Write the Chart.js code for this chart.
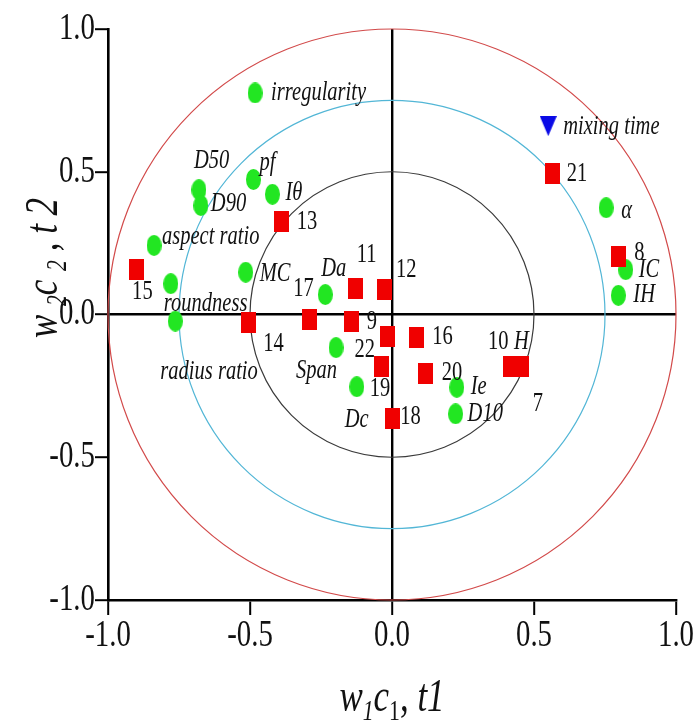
<!DOCTYPE html>
<html>
<head>
<meta charset="utf-8">
<title>PLS loading plot</title>
<script src="https://cdn.jsdelivr.net/npm/chart.js@4.4.0/dist/chart.umd.min.js"></script>
<style>
  html, body { margin: 0; padding: 0; background: #fff; }
  #wrap { width: 695px; height: 727px; position: relative; }
</style>
</head>
<body>
<div id="wrap"><canvas id="plot"></canvas></div>
<script>
'use strict';

// X variables (green); H sits underneath squares 10 and 7
let varNames = ['irregularity', 'D50', 'D90', 'pf', 'Iθ', 'aspect ratio', 'roundness', 'radius ratio',
  'MC', 'Da', 'Span', 'Dc', 'Ie', 'D10', 'α', 'IC', 'IH', 'H'];
let varX = [-0.482, -0.680, -0.673, -0.488, -0.421, -0.838, -0.779, -0.763,
  -0.515, -0.235, -0.197, -0.124, 0.228, 0.224, 0.754, 0.823, 0.797, 0.440];
let varY = [0.776, 0.437, 0.382, 0.473, 0.421, 0.242, 0.108, -0.023,
  0.148, 0.070, -0.116, -0.253, -0.255, -0.348, 0.374, 0.157, 0.067, -0.182];

// samples (red)
let sampleNames = ['7', '8', '9', '10', '11', '12', '13', '14', '15', '16', '17', '18', '19', '20', '21', '22'];
let sampleX = [0.457, 0.797, -0.142, 0.419, -0.128, -0.025, -0.388, -0.506, -0.901, 0.085, -0.291, 0.001, -0.036, 0.119, 0.566, -0.016];
let sampleY = [-0.182, 0.204, -0.023, -0.182, 0.092, 0.088, 0.324, -0.029, 0.159, -0.080, -0.018, -0.366, -0.182, -0.205, 0.494, -0.076];

// Y response (blue)
let respNames = ['mixing time'];
let respX = [0.550];
let respY = [0.660];

let tickValues = [-1.0, -0.5, 0.0, 0.5, 1.0];
let circleRadii = [0.5, 0.75, 1.0];
let circleColors = ['#3a3a3a', '#52b6d6', '#d24a4a'];

// where each label sits, in px from its marker centre
let labelOffsets = {
  'irregularity': [16, 0], 'D50': [-5, -29], 'D90': [10, -2], 'pf': [6, -17], 'Iθ': [13, -1],
  'aspect ratio': [8, -9], 'roundness': [-7, 20], 'radius ratio': [-15, 51], 'MC': [14, 2],
  'Da': [-4, -26], 'Span': [-40, 23], 'Dc': [-12, 33], 'Ie': [14, 0], 'D10': [12, 0],
  'α': [15, 3], 'IC': [13, 0], 'IH': [15, 0], 'H': [-3, -25],
  '7': [11, 37], '8': [16, -3], '9': [15, 1], '10': [-23, -25], '11': [1, -33], '12': [11, -19],
  '13': [15, 0], '14': [15, 21], '15': [-4, 23], '16': [16, 0], '17': [-16, -31], '18': [8, -2],
  '19': [-12, 22], '20': [16, 0], '21': [14, 0], '22': [-33, 14],
  'mixing time': [15, 1]
};

const SERIF = '"Liberation Serif", "Times New Roman", serif';
const SQUEEZE = 0.76;

function makeMarker(w, h, color, shape) {
  let c = document.createElement('canvas');
  c.width = w;
  c.height = h;
  let g = c.getContext('2d');
  g.fillStyle = color;
  g.beginPath();
  if (shape === 'ellipse') {
    g.ellipse(w / 2, h / 2, w / 2, h / 2, 0, 0, Math.PI * 2);
  } else if (shape === 'tri') {
    g.moveTo(0, 0);
    g.lineTo(w, 0);
    g.lineTo(w / 2, h);
    g.closePath();
  } else {
    g.rect(0, 0, w, h);
  }
  g.fill();
  return c;
}

function toPoints(xs, ys) {
  let pts = [];
  for (let i = 0; i < xs.length; i++) {
    pts.push({ x: xs[i], y: ys[i] });
  }
  return pts;
}

function squeezeText(ctx, text, x, y, font, align) {
  ctx.save();
  ctx.font = font;
  ctx.fillStyle = '#111';
  ctx.textBaseline = 'middle';
  ctx.textAlign = align || 'left';
  ctx.translate(x, y);
  ctx.scale(SQUEEZE, 1);
  ctx.fillText(text, 0, 0);
  ctx.restore();
}

// draws a run of text pieces (with subscripts) centred on 0,0 of the current transform
function drawTitle(ctx, parts, size) {
  let widths = [];
  let total = 0;
  for (let p of parts) {
    let s = p.sub ? size * 0.62 : size;
    ctx.font = (p.italic ? 'italic ' : '') + s + 'px ' + SERIF;
    let w = ctx.measureText(p.t).width;
    widths.push(w);
    total += w;
  }
  ctx.save();
  ctx.scale(SQUEEZE, 1);
  ctx.fillStyle = '#111';
  ctx.textBaseline = 'alphabetic';
  ctx.textAlign = 'left';
  let x = -total / 2;
  for (let i = 0; i < parts.length; i++) {
    let p = parts[i];
    let s = p.sub ? size * 0.62 : size;
    ctx.font = (p.italic ? 'italic ' : '') + s + 'px ' + SERIF;
    ctx.fillText(p.t, x, size * 0.33 + (p.sub ? size * 0.2 : 0));
    x += widths[i];
  }
  ctx.restore();
}

const circlesPlugin = {
  id: 'circles',
  beforeDatasetsDraw(chart) {
    let ctx = chart.ctx;
    let xs = chart.scales.x;
    let ys = chart.scales.y;
    let cx = xs.getPixelForValue(0);
    let cy = ys.getPixelForValue(0);
    for (let i = 0; i < circleRadii.length; i++) {
      let rx = xs.getPixelForValue(circleRadii[i]) - cx;
      let ry = cy - ys.getPixelForValue(circleRadii[i]);
      ctx.save();
      ctx.strokeStyle = circleColors[i];
      ctx.lineWidth = 1.2;
      ctx.beginPath();
      ctx.ellipse(cx, cy, rx, ry, 0, 0, Math.PI * 2);
      ctx.stroke();
      ctx.restore();
    }
  }
};

const textPlugin = {
  id: 'texts',
  afterDraw(chart) {
    let ctx = chart.ctx;
    let xs = chart.scales.x;
    let ys = chart.scales.y;

    // tick labels
    for (let v of tickValues) {
      squeezeText(ctx, v.toFixed(1), 95, ys.getPixelForValue(v), '38px ' + SERIF, 'right');
      squeezeText(ctx, v.toFixed(1), xs.getPixelForValue(v), 636, '38px ' + SERIF, 'center');
    }

    // marker labels
    chart.data.datasets.forEach(function (ds, di) {
      let meta = chart.getDatasetMeta(di);
      meta.data.forEach(function (el, i) {
        let name = ds.names[i];
        let off = labelOffsets[name] || [12, 0];
        let italic = isNaN(Number(name));
        let font = (italic ? 'italic ' : '') + '27px ' + SERIF;
        squeezeText(ctx, name, el.x + off[0], el.y + off[1], font, 'left');
      });
    });

    // axis titles
    ctx.save();
    ctx.translate(xs.getPixelForValue(0), 696);
    drawTitle(ctx, [
      { t: 'w', italic: true }, { t: '1', italic: true, sub: true },
      { t: 'c', italic: true }, { t: '1', sub: true },
      { t: ', ', italic: false }, { t: 't1', italic: true }
    ], 46);
    ctx.restore();

    ctx.save();
    ctx.translate(42, 268);
    ctx.rotate(-Math.PI / 2);
    drawTitle(ctx, [
      { t: 'w ', italic: true }, { t: '2', italic: true, sub: true },
      { t: 'c ', italic: true }, { t: '2', italic: true, sub: true },
      { t: ' , ', italic: true }, { t: 't 2', italic: true }
    ], 46);
    ctx.restore();
  }
};

function zeroLine(c) {
  return c.tick && c.tick.value === 0 ? '#000' : 'rgba(0,0,0,0)';
}

let axisOpts = function (tickLen) {
  return {
    type: 'linear',
    min: -1,
    max: 1,
    ticks: { display: false, stepSize: 0.5 },
    grid: {
      color: zeroLine,
      lineWidth: 2.4,
      drawTicks: true,
      tickLength: tickLen,
      tickColor: '#000',
      tickWidth: 2
    },
    border: { color: '#000', width: 2.6 }
  };
};

const config = {
  type: 'scatter',
  data: {
    datasets: [
      {
        names: sampleNames,
        data: toPoints(sampleX, sampleY),
        pointStyle: makeMarker(15, 21, '#f00000', 'rect'),
        pointRadius: 8
      },
      {
        names: respNames,
        data: toPoints(respX, respY),
        pointStyle: makeMarker(17, 20, '#0a0ae6', 'tri'),
        pointRadius: 8
      },
      {
        names: varNames,
        data: toPoints(varX, varY),
        pointStyle: makeMarker(15, 21, '#22e622', 'ellipse'),
        pointRadius: 8
      }
    ]
  },
  options: {
    responsive: true,
    maintainAspectRatio: false,
    animation: false,
    layout: { padding: { top: 29, left: 95, right: 19, bottom: 112 } },
    plugins: {
      legend: { display: false },
      tooltip: { enabled: false }
    },
    scales: {
      x: axisOpts(15),
      y: axisOpts(13)
    }
  },
  plugins: [circlesPlugin, textPlugin]
};

const myChart = new Chart(document.getElementById('plot'), config);
</script>
</body>
</html>
